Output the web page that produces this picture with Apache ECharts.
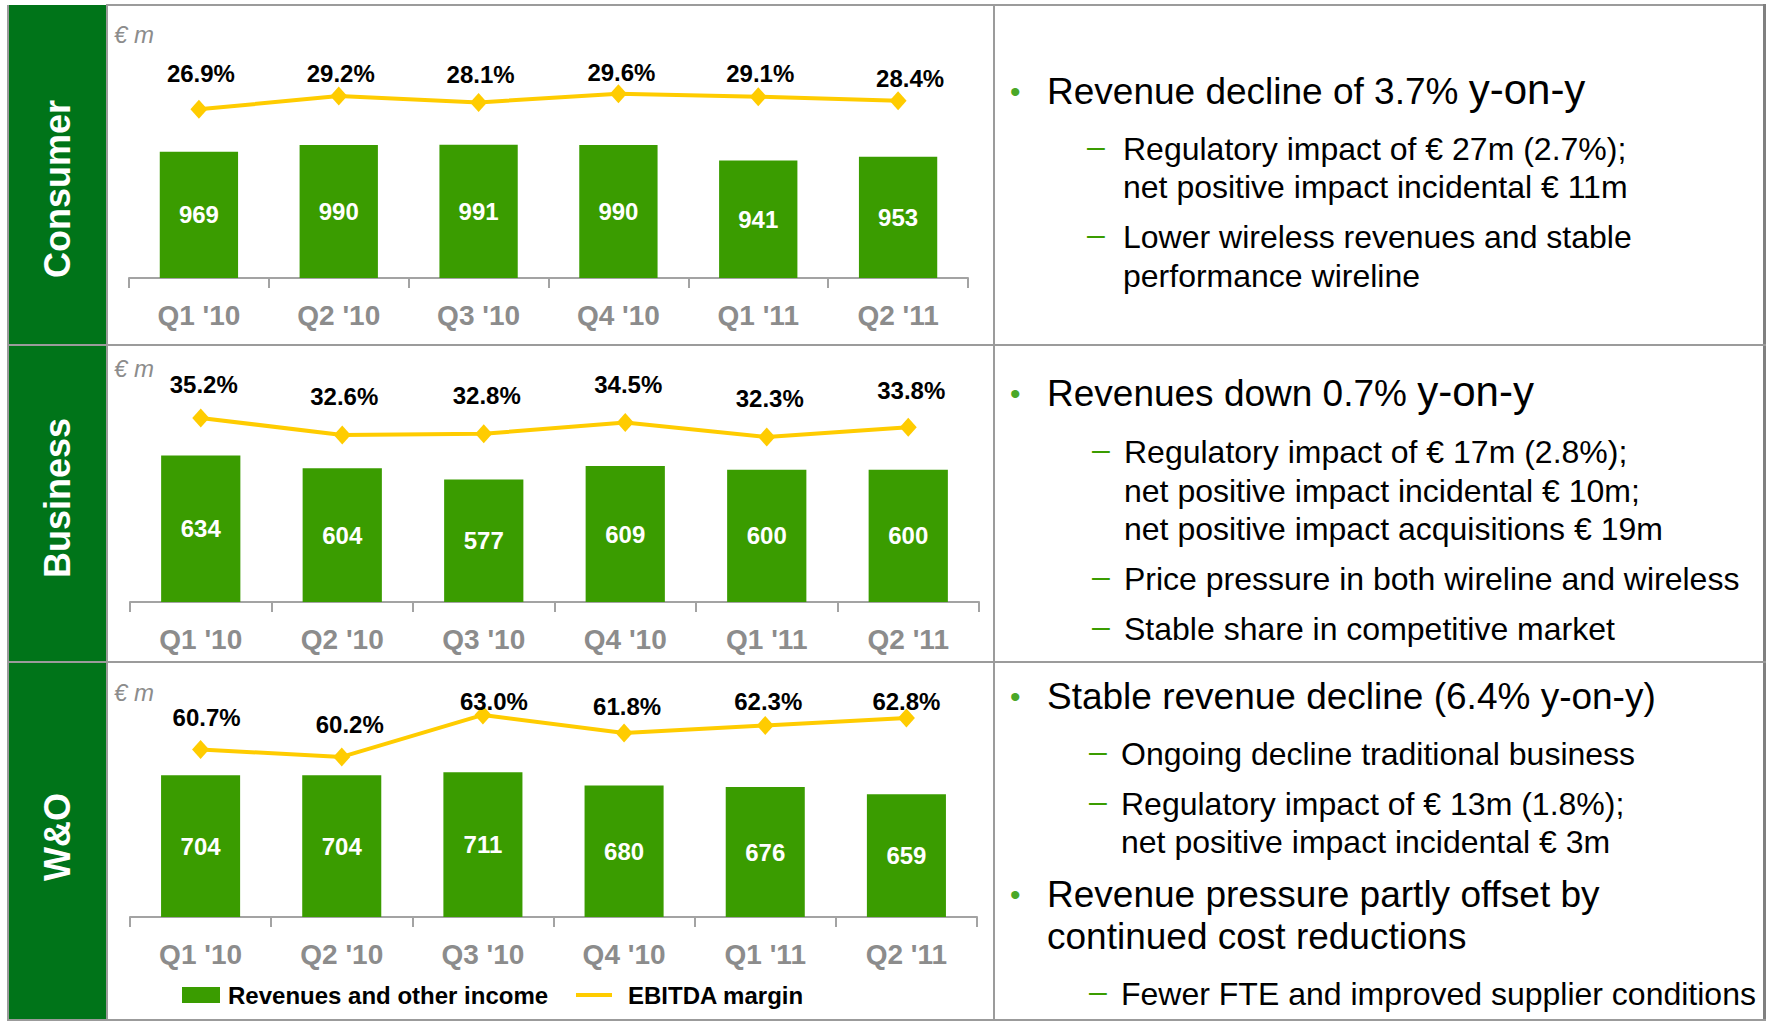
<!DOCTYPE html>
<html>
<head>
<meta charset="utf-8">
<title>Segments - revenues and EBITDA margin</title>
<script src="https://cdn.jsdelivr.net/npm/echarts@6/dist/echarts.min.js"></script>
<style>
    body { margin: 0; background: #fff; }
    #chart { position: absolute; left: 0; top: 0; width: 1768px; height: 1021px; }
    .t { position: absolute; white-space: nowrap; line-height: 40px; font-family: "Liberation Sans", Arial, sans-serif; color: #000; }
    .m { font-size: 37px; left: 1047px; }
    .s { font-size: 32px; }
    .big { font-size: 42px; line-height: 0; }
    .dot { font-size: 30px; color: #4aa828; left: 1010px; }
    .dash { font-size: 32px; color: #3a9c00; margin-top: -3px; }
</style>
</head>
<body>
<div id="chart"></div>

<!-- Consumer -->
<div class="t dot" style="top:72px">•</div>
<div class="t m" style="top:72px">Revenue decline of 3.7% <span class="big">y-on-y</span></div>
<div class="t dash" style="top:129px;left:1087px">–</div>
<div class="t s" style="top:129px;left:1123px">Regulatory impact of € 27m (2.7%);</div>
<div class="t s" style="top:167px;left:1123px">net positive impact incidental € 11m</div>
<div class="t dash" style="top:217px;left:1087px">–</div>
<div class="t s" style="top:217px;left:1123px">Lower wireless revenues and stable</div>
<div class="t s" style="top:256px;left:1123px">performance wireline</div>

<!-- Business -->
<div class="t dot" style="top:374px">•</div>
<div class="t m" style="top:374px">Revenues down 0.7% <span class="big">y-on-y</span></div>
<div class="t dash" style="top:432px;left:1092px">–</div>
<div class="t s" style="top:432px;left:1124px">Regulatory impact of € 17m (2.8%);</div>
<div class="t s" style="top:471px;left:1124px">net positive impact incidental € 10m;</div>
<div class="t s" style="top:509px;left:1124px">net positive impact acquisitions € 19m</div>
<div class="t dash" style="top:559px;left:1092px">–</div>
<div class="t s" style="top:559px;left:1124px">Price pressure in both wireline and wireless</div>
<div class="t dash" style="top:609px;left:1092px">–</div>
<div class="t s" style="top:609px;left:1124px">Stable share in competitive market</div>

<!-- W&O -->
<div class="t dot" style="top:677px">•</div>
<div class="t m" style="top:677px">Stable revenue decline (6.4% y-on-y)</div>
<div class="t dash" style="top:734px;left:1089px">–</div>
<div class="t s" style="top:734px;left:1121px">Ongoing decline traditional business</div>
<div class="t dash" style="top:784px;left:1089px">–</div>
<div class="t s" style="top:784px;left:1121px">Regulatory impact of € 13m (1.8%);</div>
<div class="t s" style="top:822px;left:1121px">net positive impact incidental € 3m</div>
<div class="t dot" style="top:875px">•</div>
<div class="t m" style="top:875px">Revenue pressure partly offset by</div>
<div class="t m" style="top:917px">continued cost reductions</div>
<div class="t dash" style="top:974px;left:1089px">–</div>
<div class="t s" style="top:974px;left:1121px">Fewer FTE and improved supplier conditions</div>

<script>
    var categories = ["Q1 '10", "Q2 '10", "Q3 '10", "Q4 '10", "Q1 '11", "Q2 '11"];

    var consumerRevenue = [969, 990, 991, 990, 941, 953];
    var consumerMargin = [26.9, 29.2, 28.1, 29.6, 29.1, 28.4];
    var businessRevenue = [634, 604, 577, 609, 600, 600];
    var businessMargin = [35.2, 32.6, 32.8, 34.5, 32.3, 33.8];
    var woRevenue = [704, 704, 711, 680, 676, 659];
    var woMargin = [60.7, 60.2, 63.0, 61.8, 62.3, 62.8];

    // where the % labels sit relative to their diamond
    var consumerLabelShift = [[2, -36], [2, -23], [2, -28], [3, -21], [2, -23], [12, -22]];
    var businessLabelShift = [[3, -33], [2, -39], [3, -38], [3, -38], [3, -38], [3, -37]];
    var woLabelShift = [[6, -32], [8, -32], [11, -13], [3, -26], [3, -24], [0, -16]];

    var font = '"Liberation Sans", Arial, sans-serif';
    var axisGray = '#a3a3a3';
    var frameGray = '#9b9b9b';

    var panels = [
        {rev: consumerRevenue, margin: consumerMargin, shift: consumerLabelShift,
            grid: {left: 129, top: 40, width: 839, height: 238},
            barMin: 572, barMax: 1320, lineMin: -2.44, lineMax: 38.95},
        {rev: businessRevenue, margin: businessMargin, shift: businessLabelShift,
            grid: {left: 130, top: 360, width: 849, height: 242},
            barMin: 286, barMax: 861, lineMin: 7.11, lineMax: 44.05},
        {rev: woRevenue, margin: woMargin, shift: woLabelShift,
            grid: {left: 130, top: 680, width: 847, height: 237},
            barMin: 368, barMax: 930, lineMin: 49.53, lineMax: 65.33}
    ];

    var grid = [], xAxis = [], yAxis = [], series = [];
    panels.forEach(function (p, i) {
        grid.push(p.grid);
        xAxis.push({
            type: 'category',
            gridIndex: i,
            data: categories,
            axisLine: {show: true, onZero: false, lineStyle: {color: axisGray, width: 2}},
            axisTick: {show: true, length: 10, lineStyle: {color: axisGray, width: 2}},
            axisLabel: {color: '#8c8c8c', fontSize: 28, fontWeight: 'bold', fontFamily: font, margin: 23}
        });
        yAxis.push({type: 'value', gridIndex: i, min: p.barMin, max: p.barMax, show: false});
        yAxis.push({type: 'value', gridIndex: i, min: p.lineMin, max: p.lineMax, show: false});
        series.push({
            type: 'bar',
            name: 'Revenues and other income',
            xAxisIndex: i,
            yAxisIndex: 2 * i,
            data: p.rev,
            barWidth: '56%',
            itemStyle: {color: '#3a9c00'},
            label: {show: true, position: 'inside', color: '#fff', fontSize: 24, fontWeight: 'bold', fontFamily: font}
        });
        series.push({
            type: 'line',
            name: 'EBITDA margin',
            xAxisIndex: i,
            yAxisIndex: 2 * i + 1,
            data: p.margin.map(function (v, j) {
                return {value: v, label: {offset: p.shift[j]}};
            }),
            symbol: 'diamond',
            symbolSize: [17, 19],
            lineStyle: {color: '#ffcc00', width: 4},
            itemStyle: {color: '#ffcc00'},
            z: 3,
            label: {
                show: true, position: 'inside', color: '#000', fontSize: 24, fontWeight: 'bold', fontFamily: font,
                formatter: function (q) { return q.value.toFixed(1) + '%'; }
            }
        });
    });

    function box(x, y, w, h, color) {
        return {type: 'rect', shape: {x: x, y: y, width: w, height: h}, style: {fill: color}, silent: true};
    }
    function sideLabel(text, y) {
        return {type: 'text', x: 57, y: y, rotation: Math.PI / 2, silent: true,
            style: {text: text, fill: '#fff', fontSize: 36, fontWeight: 'bold', fontFamily: font, align: 'center', verticalAlign: 'middle'}};
    }
    function unitLabel(y) {
        return {type: 'text', x: 114, y: y, silent: true,
            style: {text: '€ m', fill: '#8c8c8c', fontSize: 24, fontStyle: 'italic', fontFamily: font, verticalAlign: 'middle'}};
    }

    var graphic = [
        box(9, 5, 97, 1016, '#007419'),
        box(7, 5, 2, 1016, frameGray),
        box(106, 4, 2, 1017, frameGray),
        box(106, 4, 1660, 2, frameGray),
        box(993, 4, 2, 1017, frameGray),
        box(1763, 4, 3, 1017, '#808080'),
        box(7, 344, 1759, 2, frameGray),
        box(7, 661, 1759, 2, frameGray),
        box(7, 1019, 1759, 2, frameGray),
        sideLabel('Consumer', 189),
        sideLabel('Business', 498),
        sideLabel('W&O', 837),
        unitLabel(34),
        unitLabel(368),
        unitLabel(692)
    ];

    var legendText = {fontSize: 24, fontWeight: 'bold', color: '#000', fontFamily: font};

    var chart = echarts.init(document.getElementById('chart'), null, {renderer: 'svg'});
    chart.setOption({
        animation: false,
        graphic: graphic,
        legend: [
            {left: 182, top: 983, padding: 0, itemWidth: 38, itemHeight: 16, selectedMode: false,
                textStyle: Object.assign({padding: [0, 0, 0, 3]}, legendText),
                data: [{name: 'Revenues and other income', icon: 'rect'}]},
            {left: 576, top: 983, padding: 0, itemWidth: 36, itemHeight: 16, selectedMode: false,
                textStyle: Object.assign({padding: [0, 0, 0, 11]}, legendText),
                data: [{name: 'EBITDA margin', icon: 'path://M0,0H36V4H0Z'}]}
        ],
        grid: grid,
        xAxis: xAxis,
        yAxis: yAxis,
        series: series
    });
</script>
</body>
</html>
